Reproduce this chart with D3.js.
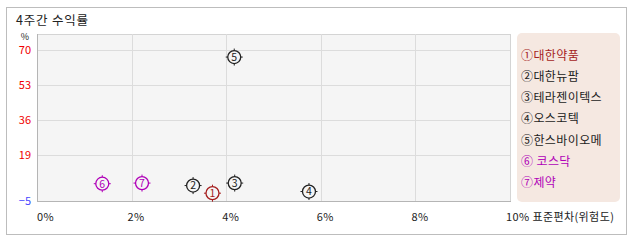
<!DOCTYPE html>
<html>
<head>
<meta charset="utf-8">
<script src="https://cdn.jsdelivr.net/npm/d3@7"></script>
<style>
  body { margin: 0; background: #fff; }
  text { font-family: "Noto Sans CJK KR", "Noto Sans", sans-serif; }
</style>
</head>
<body>
<div id="chart"></div>
<script>
// data
let names = ["대한약품", "대한뉴팜", "테라젠이텍스", "오스코텍", "한스바이오메", "코스닥", "제약"];
let marks = ["①", "②", "③", "④", "⑤", "⑥", "⑦"];
let stdev = [3.71, 3.30, 4.18, 5.75, 4.17, 1.38, 2.22];   // x, %
let returns = [0.5, 4.2, 5.4, 1.3, 66.6, 5.1, 5.4];      // y, %
let xTicks = [0, 2, 4, 6, 8, 10];
let yTicks = [-5, 19, 36, 53, 70];

let colors = ["#a51d1d", "#222", "#222", "#222", "#222", "#b000b8", "#b000b8"];

let width = 638;
let height = 242;
let plotL = 37, plotR = 510, plotT = 34, plotB = 201;

let svg = d3.select("#chart")
  .append("svg")
  .attr("width", width)
  .attr("height", height);

// outer frame
svg.append("rect")
  .attr("x", 6.5).attr("y", 7.5)
  .attr("width", 620).attr("height", 227)
  .attr("fill", "#fff")
  .attr("stroke", "#bdbdbd");

svg.append("text")
  .attr("x", 16).attr("y", 25)
  .attr("font-size", 12.5)
  .attr("letter-spacing", 0.8)
  .attr("fill", "#222")
  .text("4주간 수익률");

let xScale = d3.scaleLinear().domain([0, 10]).range([plotL, plotR]);
let yScale = d3.scaleLinear().domain([-3.3, 77.8]).range([plotB, plotT]).clamp(true);

// plot background
svg.append("rect")
  .attr("x", plotL + 0.5).attr("y", plotT + 0.5)
  .attr("width", plotR - plotL).attr("height", plotB - plotT)
  .attr("fill", "#f5f5f5")
  .attr("stroke", "#d4d4d4");

// grid
svg.append("g")
  .selectAll("line")
  .data(xTicks.slice(1, -1))
  .enter()
  .append("line")
  .attr("x1", d => Math.round(xScale(d)) + 0.5)
  .attr("x2", d => Math.round(xScale(d)) + 0.5)
  .attr("y1", plotT)
  .attr("y2", plotB)
  .attr("stroke", "#dcdcdc");

svg.append("g")
  .selectAll("line")
  .data(yTicks.slice(1))
  .enter()
  .append("line")
  .attr("x1", plotL)
  .attr("x2", plotR)
  .attr("y1", d => Math.round(yScale(d)) + 0.5)
  .attr("y2", d => Math.round(yScale(d)) + 0.5)
  .attr("stroke", "#dcdcdc");

// axis lines left & bottom
svg.append("line")
  .attr("x1", plotL + 0.5).attr("x2", plotL + 0.5)
  .attr("y1", plotT).attr("y2", plotB + 1)
  .attr("stroke", "#b5b5b5");
svg.append("line")
  .attr("x1", plotL).attr("x2", plotR + 1)
  .attr("y1", plotB + 0.5).attr("y2", plotB + 0.5)
  .attr("stroke", "#b5b5b5");

// y labels
svg.append("g")
  .selectAll("text")
  .data(yTicks)
  .enter()
  .append("text")
  .attr("x", 31)
  .attr("y", d => yScale(d) + 4)
  .attr("text-anchor", "end")
  .attr("font-size", 11)
  .attr("fill", d => d < 0 ? "#4646ff" : "#f00000")
  .text(d => d < 0 ? "\u2212" + Math.abs(d) : d);

svg.append("text")
  .attr("x", 25).attr("y", 39.5)
  .attr("text-anchor", "middle")
  .attr("font-size", 9)
  .attr("fill", "#222")
  .text("%");

// x labels
svg.append("g")
  .selectAll("text")
  .data(xTicks)
  .enter()
  .append("text")
  .attr("x", d => xScale(d) + (d === 0 ? 0 : -4))
  .attr("y", 221)
  .attr("font-size", 11)
  .attr("letter-spacing", 0.4)
  .attr("fill", "#222")
  .text(d => d + "%" + (d === 10 ? " 표준편차(위험도)" : ""));

// points
let pts = svg.append("g")
  .selectAll("g")
  .data(names)
  .enter()
  .append("g")
  .attr("transform", (d, i) => "translate(" + xScale(stdev[i]) + "," + yScale(returns[i]) + ")");

pts.append("circle")
  .attr("r", 6.5)
  .attr("fill", "none")
  .attr("stroke", (d, i) => colors[i])
  .attr("stroke-width", 1.3);

[[0, -6.5, 0, -8.5], [0, 6.5, 0, 8.5], [-6.5, 0, -8.5, 0], [6.5, 0, 8.5, 0]].forEach(function (t) {
  pts.append("line")
    .attr("x1", t[0]).attr("y1", t[1])
    .attr("x2", t[2]).attr("y2", t[3])
    .attr("stroke", (d, i) => colors[i]);
});

pts.append("text")
  .attr("y", 3.8)
  .attr("text-anchor", "middle")
  .attr("font-size", 10.5)
  .attr("fill", (d, i) => colors[i])
  .text((d, i) => i + 1);

// legend
svg.append("rect")
  .attr("x", 517).attr("y", 33)
  .attr("width", 103).attr("height", 169)
  .attr("rx", 5)
  .attr("fill", "#f5e8e1");

svg.append("g")
  .selectAll("text")
  .data(names)
  .enter()
  .append("text")
  .attr("x", 521)
  .attr("y", (d, i) => 59.5 + i * 21.3)
  .attr("font-size", 12)
  .attr("letter-spacing", 0.4)
  .attr("fill", (d, i) => colors[i])
  .text((d, i) => marks[i] + (i === 5 ? " " : "") + d);
</script>
</body>
</html>
